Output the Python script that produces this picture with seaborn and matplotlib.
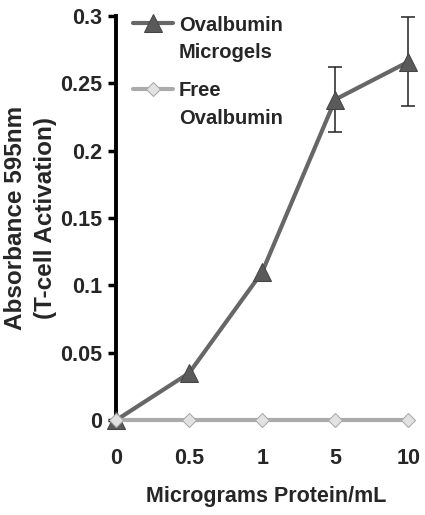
import numpy as np
import pandas as pd
import matplotlib
matplotlib.use("Agg")
import matplotlib.pyplot as plt
import seaborn as sns
from matplotlib.legend_handler import HandlerLine2D

concentrations = ["0", "0.5", "1", "5", "10"]
microgels = [0.0, 0.035, 0.110, 0.238, 0.266]
microgels_err = [0.0, 0.0, 0.0, 0.024, 0.033]
free = [0.0, 0.0, 0.0, 0.0, 0.0]
yticks = [0, 0.05, 0.1, 0.15, 0.2, 0.25, 0.3]
ytick_labels = ["0", "0.05", "0.1", "0.15", "0.2", "0.25", "0.3"]

sns.set_theme(style="white")
plt.rcParams['font.family'] = ['Liberation Sans', 'DejaVu Sans']
plt.rcParams['font.weight'] = 'bold'

pos = np.arange(len(concentrations))
df = pd.DataFrame({
    "pos": np.concatenate([pos, pos]),
    "val": microgels + free,
    "series": ["Ovalbumin\nMicrogels"] * 5 + ["Free\nOvalbumin"] * 5,
})

fig = plt.figure(figsize=(4.25, 5.15), dpi=100)
ax = fig.add_axes([0.273, 0.184, 0.705, 0.785])

ax.errorbar(pos[3:], microgels[3:], yerr=microgels_err[3:], fmt="none",
            ecolor="#222222", elinewidth=1.1, capsize=5, capthick=1.1, zorder=2)

sns.lineplot(data=df, x="pos", y="val", hue="series", style="series",
             palette={"Ovalbumin\nMicrogels": "#676767", "Free\nOvalbumin": "#ababab"},
             markers={"Ovalbumin\nMicrogels": "^", "Free\nOvalbumin": "D"},
             dashes=False, linewidth=3, markersize=10, ax=ax, zorder=3)

for ln in ax.lines:
    if ln.get_marker() == "^":
        ln.set_markerfacecolor("#5a5a5a"); ln.set_markeredgecolor("#444444")
        ln.set_markersize(13); ln.set_zorder(4)
    elif ln.get_marker() == "D":
        ln.set_markerfacecolor("#e2e2e2"); ln.set_markeredgecolor("#a8a8a8")
        ln.set_markersize(7.5); ln.set_zorder(5)
    ln.set_clip_on(False)

ax.set_xlim(0, 4.1)
ax.set_ylim(0, 0.3)
ax.set_xticks(pos)
ax.set_xticklabels(concentrations, fontsize=15.5, fontweight="bold")
ax.set_yticks(yticks)
ax.set_yticklabels(ytick_labels, fontsize=15.5, fontweight="bold")
ax.tick_params(axis="y", direction="out", length=6, width=2.5, color="black", pad=4, left=True)
ax.tick_params(axis="x", length=0, pad=20)
for s in ["top", "right", "bottom"]:
    ax.spines[s].set_visible(False)
ax.spines["left"].set_linewidth(2.8)
ax.spines["left"].set_color("black")

ax.set_xlabel("Micrograms Protein/mL", fontsize=15.5, fontweight="bold", labelpad=12)
ax.set_ylabel("Absorbance 595nm\n(T-cell Activation)", fontsize=17.5, fontweight="bold",
              labelpad=2.5, linespacing=1.35)


class ShiftedHandler(HandlerLine2D):
    def create_artists(self, legend, orig_handle, xdescent, ydescent, width, height, fontsize, trans):
        artists = super().create_artists(legend, orig_handle, xdescent, ydescent,
                                         width, height, fontsize, trans)
        for a in artists:
            a.set_ydata(np.asarray(a.get_ydata()) + 0.8 * fontsize)
        return artists


handles, labels = ax.get_legend_handles_labels()
leg = ax.legend(handles, labels, loc="upper left", bbox_to_anchor=(-0.005, 1.045), frameon=False,
                prop={"weight": "bold", "size": 14.5}, handlelength=2.0,
                handletextpad=0.3, labelspacing=0.95,
                handler_map={h: ShiftedHandler() for h in handles})
for t in leg.get_texts():
    t.set_linespacing(1.55)

fig.savefig("out.png", dpi=100)
